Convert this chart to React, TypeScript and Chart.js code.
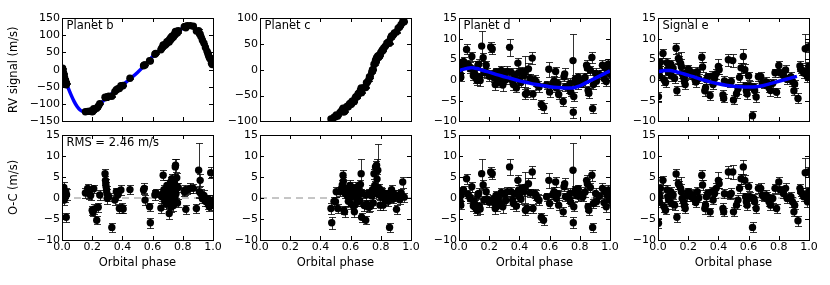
import React, { useEffect, useRef } from 'react';
import { Chart, registerables } from 'chart.js';

Chart.register(...registerables);
Chart.defaults.font.family = "'DejaVu Sans', sans-serif";
Chart.defaults.font.size = 11;
Chart.defaults.color = '#000';

// ---------------- DATA ----------------
// Planet b
const bPhase = [0.004,0.008,0.012,0.015,0.018,0.022,0.025,0.028,0.03,
  0.155,0.17,0.18,0.19,0.2,0.205,0.21,0.215,0.23,0.24,0.25,
  0.285,0.288,0.29,0.292,0.295,0.298,0.3,0.31,
  0.33,0.35,0.36,0.37,0.38,0.39,0.4,0.405,
  0.45,
  0.54,0.545,0.55,
  0.58,0.585,
  0.615,0.62,
  0.655,0.66,0.665,0.67,0.675,0.68,0.685,0.69,0.695,0.7,0.705,0.71,0.712,0.715,0.72,0.722,0.725,0.728,0.73,0.735,0.738,0.74,0.745,0.748,0.75,0.752,0.755,0.76,0.765,0.77,
  0.81,0.815,0.82,0.83,0.85,0.87,
  0.89,0.905,0.91,0.915,0.92,0.93,0.94,0.95,0.96,0.965,0.97,0.975,0.98,0.985,0.99,0.995];
const bRV = [4,-5.5,-11.5,-20.5,-25,-32,-34,-43.6,-40,
  -122,-121,-121,-120,-122,-120.4,-113,-115.6,-112,-106,-99,
  -80,-81,-80.6,-80.3,-80,-80,-80,-76.7,
  -77,-63.5,-58,-55,-54.5,-46.7,-47.3,-45.6,
  -25,
  11.5,14,13.5,
  26,25,
  45,47,
  58,62,65.6,72,71,70,74,74,81,79.7,83.6,80.7,88,85.6,92.6,87.5,91.8,97,92.7,97.6,95,99,103,101,109,111,105,111,107,113,
  124.5,125.6,121.6,127.6,128,126,
  112,113,104,103,96,85.3,76.6,64.7,54,48.7,42,36,31.5,32.5,19,15];
const bOC = [1.8,0.5,2.5,-0.5,1.0,0.2,1.5,-4.6,0.8,
  1.2,2.3,1.0,0.6,-2.9,-3.4,2.2,-2.6,-5.3,-2.2,0.7,
  5.8,4.2,3.4,2.7,1.9,1.1,-0.1,0.3,
  -7.0,-0.5,1.5,0.7,-2.5,1.9,-2.3,-2.6,
  2.0,
  1.9,2.3,-0.5,
  -2.1,-5.9,
  0.7,1.2,
  -2.4,0.3,1.0,5.4,2.0,-0.8,0.5,-1.5,3.0,-0.3,1.4,-3.7,2.6,-1.0,3.8,-2.2,0.8,4.6,-0.5,2.2,-1.8,1.5,3.5,0.2,7.4,7.8,1.0,4.8,-1.2,2.5,
  1.5,1.9,-2.7,1.9,2.3,2.3,
  -2.5,6.6,1.5,4.2,1.0,-0.2,0.6,-0.8,-1.0,-0.3,-1.4,-2.0,-0.5,6.0,-1.8,-0.6];
const bErr = [1.2,1.0,1.3,1.1,1.0,1.2,1.0,1.1,1.3,
  1.1,1.0,1.2,1.0,1.1,1.0,1.0,1.2,1.0,1.1,1.2,
  1.2,1.0,1.1,1.2,1.0,1.1,1.3,1.0,
  1.0,1.1,1.0,1.2,1.0,1.1,1.2,1.0,
  1.1,
  1.0,1.2,1.1,
  1.0,1.2,
  1.1,1.0,
  1.2,1.0,1.1,1.2,1.0,1.1,1.3,1.0,1.2,1.1,1.0,1.3,1.1,1.0,1.2,1.1,1.0,1.2,1.1,1.0,1.2,1.0,1.1,1.2,1.8,1.6,1.1,1.2,1.0,1.1,
  1.0,1.2,1.1,1.0,1.2,1.0,
  1.1,6.5,1.2,1.4,1.1,1.0,1.2,1.1,1.0,1.1,1.2,1.0,1.1,1.3,1.0,1.2];
const bModelPhase = [0,0.02,0.04,0.06,0.08,0.1,0.12,0.14,0.16,0.18,0.2,0.25,0.3,0.35,0.4,0.45,0.5,0.55,0.6,0.65,0.7,0.75,0.78,0.81,0.84,0.87,0.9,0.92,0.94,0.96,0.98,1.0];
const bModel = [10,-30,-52,-73,-92,-107,-117,-122,-124,-122,-119,-100,-80,-63,-45,-27,-8,14,38,58,80,102,115,123,127,124,110,95,76,55,32,10];

// Planet c
const cPhase = [0.47,0.475,0.49,0.5,0.505,0.515,0.53,0.54,0.545,0.55,
  0.552,0.555,0.56,0.565,0.575,0.58,0.585,0.59,0.595,0.6,
  0.605,0.61,0.615,0.62,0.625,0.63,0.635,0.64,0.645,0.65,
  0.655,0.66,0.665,0.67,0.673,0.68,0.69,0.7,0.705,0.71,
  0.72,0.725,0.73,0.74,0.745,0.75,0.755,0.76,0.765,0.77,
  0.772,0.775,0.78,0.785,0.79,0.795,0.8,0.805,0.81,0.815,
  0.82,0.83,0.84,0.85,0.858,0.865,0.871,0.88,0.89,0.904,
  0.915,0.925,0.935,0.945,0.955];
const cRV = [-95.5,-98.4,-91.8,-90.9,-87.5,-89.5,-82.5,-79.7,-77.9,-74.6,
  -75.5,-81.9,-80.7,-75,-71.3,-71.5,-71.8,-67.8,-65.3,-66.8,
  -66.7,-60.8,-60.7,-61.8,-61.3,-55,-52.1,-52.6,-51.8,-46.2,
  -45.6,-45.6,-39.8,-35.2,-44.4,-36,-34.8,-34.3,-25.3,-24.8,
  -19.9,-13.6,-14,-4.8,0,0.1,10.5,11,18.4,15.5,
  23,21.5,26.6,23.8,28.3,27.3,33.6,34.5,38.2,37.3,
  42.1,45.5,51.3,53.8,51,61.4,65.2,66.3,71.2,72.8,
  80.1,82.8,87.7,93.3,92.7];
const cOC = [-2.5,-5.9,-0.8,-0.9,1.5,-2.5,1.5,2.3,3.1,5.4,
  4.0,-2.9,-3.3,1.0,2.2,0.5,-0.8,1.8,3.0,0.2,
  -1.5,2.6,0.9,-2.0,-3.3,1.2,2.3,0.0,-1.0,2.8,
  1.4,-0.6,3.2,5.8,-4.6,1.0,-1.8,-5.3,0.7,-1.5,
  -2.2,1.2,-2.0,0.5,2.0,-1.2,5.8,3.0,7.4,1.5,
  7.8,4.5,6.6,0.8,2.3,-1.7,1.6,0.2,1.5,-1.7,
  0.8,-0.5,1.0,-0.8,-7.0,0.4,2.0,-0.3,0.9,-2.7,
  0.6,-0.4,1.2,3.8,0.2];
const cErr = [1.2,1.4,1.0,1.1,1.2,1.0,1.1,1.0,1.2,1.3,
  1.1,1.0,1.2,1.1,1.0,1.2,1.1,1.0,1.3,1.1,
  1.0,1.2,1.1,1.0,1.2,1.0,1.1,1.2,1.0,1.1,
  1.0,1.2,1.1,3.6,1.1,1.0,1.2,1.0,1.1,1.0,
  1.2,1.0,1.1,1.0,1.2,1.1,1.2,1.0,1.5,1.1,
  1.4,1.2,6.2,1.0,1.1,1.2,1.0,1.1,1.0,1.2,
  1.0,1.1,1.0,1.2,1.0,1.1,1.2,1.0,1.1,1.0,
  1.2,1.1,1.0,1.3,1.1];
const cModelPhase = [0.46,0.5,0.55,0.6,0.65,0.7,0.73,0.76,0.8,0.83,0.865,0.9,0.93,0.96];
const cModel = [-94,-90,-80,-67,-49,-29,-12,8,32,46,61,74,85,94];

// Planet d
const dPhase = [0.005,0.008,0.012,0.015,0.018,0.03,0.05,0.06,0.07,0.075,
  0.085,0.095,0.1,0.105,0.11,0.12,0.125,0.13,0.135,0.14,
  0.15,0.16,0.165,0.18,0.185,0.2,0.21,0.22,0.225,0.23,
  0.24,0.245,0.25,0.26,0.27,0.28,0.29,0.3,0.31,0.32,
  0.335,0.345,0.355,0.36,0.37,0.38,0.39,0.395,0.4,0.41,
  0.42,0.43,0.435,0.44,0.45,0.46,0.47,0.485,0.49,0.5,
  0.51,0.52,0.53,0.545,0.56,0.58,0.595,0.6,0.62,0.63,
  0.64,0.645,0.655,0.66,0.69,0.695,0.7,0.705,0.73,0.735,
  0.74,0.755,0.757,0.76,0.77,0.775,0.785,0.79,0.8,0.81,
  0.82,0.835,0.845,0.85,0.855,0.86,0.87,0.88,0.885,0.89,
  0.905,0.91,0.93,0.95,0.96,0.965,0.975,0.98,0.99,0.995];
const dRV = [2.6,1.4,0.7,3.1,3.9,4.5,7.4,3.75,3.2,2.7,
  5.7,1.05,2.2,1.4,0.6,-0.1,3.5,3.8,0.7,-0.1,
  8.2,5.4,1.8,3.6,1.8,0.9,8.0,7.5,1.4,0.6,
  -1.1,2.0,-0.7,1.2,0.0,2.3,-1.2,1.7,0.1,2.1,
  7.9,1.9,-0.3,-1.1,1.1,-1.9,4.1,1.8,0.1,-0.6,
  2.0,1.1,2.0,-3.4,-3.1,2.7,0.4,5.3,-3.4,0.1,
  -0.35,-1.2,-1.7,-5.9,-6.65,-1.2,2.6,-2.9,-1.0,-0.2,
  2.05,-1.9,-0.8,-3.5,-5.2,0.8,1.5,-1.6,-2.0,-0.8,
  -2.9,4.7,-7.8,-4.0,0.2,-0.6,-1.05,0.7,-0.4,-0.6,
  -0.75,0.6,3.6,2.9,-2.5,-3.2,2.35,5.45,-6.9,-1.1,
  1.6,-0.3,1.35,3.6,0.4,3.1,-0.35,2.5,3.9,1.6];
const dOC = [0.3,-0.9,-1.7,0.7,1.5,1.9,4.6,0.9,0.3,-0.2,
  2.7,-1.9,-0.7,-1.5,-2.3,-2.9,0.7,1.1,-2.0,-2.6,
  5.8,3.1,-0.5,1.5,-0.3,-1.0,6.2,5.8,-0.3,-1.1,
  -2.5,0.6,-2.0,0.0,-1.1,1.3,-2.1,0.9,-0.6,1.5,
  7.4,1.5,-0.5,-1.3,1.0,-1.9,4.2,1.9,0.3,-0.3,
  2.3,1.5,2.5,-2.9,-2.5,3.4,1.2,6.2,-2.5,1.1,
  0.7,-0.1,-0.5,-4.6,-5.3,0.3,4.2,-1.3,0.7,1.5,
  3.8,-0.1,1.0,-1.7,-3.3,2.7,3.4,0.3,-0.1,1.1,
  -1.0,6.6,-5.9,-2.1,1.9,1.1,0.5,2.2,1.0,0.6,
  0.3,1.4,4.2,3.4,-2.1,-2.9,2.5,5.4,-7.0,-1.3,
  1.1,-0.9,0.4,2.3,-1.1,1.5,-2.1,0.7,1.9,-0.5];
const dErr = [1.1,1.2,1.0,1.3,1.1,1.0,1.2,1.0,1.1,1.0,
  1.2,1.1,1.1,1.0,1.2,1.1,1.0,1.2,1.0,1.3,
  3.6,1.2,1.0,1.1,1.2,1.2,1.3,1.2,1.0,1.1,
  1.3,1.0,1.0,1.1,1.2,1.0,1.4,1.1,1.0,1.2,
  2.0,1.1,1.0,1.2,1.0,1.1,1.2,1.1,1.0,1.2,
  1.1,1.0,3.7,1.2,1.1,1.3,1.0,1.5,1.1,1.0,
  1.2,1.0,1.1,1.1,1.2,1.0,1.8,1.1,1.0,1.2,
  1.2,1.1,1.0,1.2,1.1,1.0,1.3,1.0,1.1,1.2,
  1.0,6.4,1.3,1.1,1.0,1.2,1.1,1.0,1.2,1.1,
  1.0,1.2,1.2,1.1,1.0,1.2,1.1,1.3,1.1,1.0,
  1.2,1.1,1.0,1.2,1.0,1.1,1.2,1.0,1.1,1.2];
const dModelPhase = [0,0.02,0.05,0.08,0.1,0.12,0.15,0.18,0.2,0.25,0.3,0.35,0.4,0.45,0.5,0.55,0.6,0.65,0.7,0.75,0.8,0.85,0.9,0.95,1.0];
const dModel = [2.2,2.5,2.8,3.0,2.9,2.8,2.4,2.1,1.9,1.3,0.8,0.3,-0.2,-0.6,-1.0,-1.3,-1.6,-1.8,-1.9,-1.9,-1.4,-0.5,0.4,1.3,2.2];

// Signal e
const ePhase = [0.003,0.006,0.01,0.013,0.016,0.033,0.04,0.05,0.06,0.065,
  0.07,0.085,0.09,0.1,0.11,0.12,0.125,0.135,0.14,0.15,
  0.155,0.16,0.17,0.175,0.18,0.19,0.2,0.21,0.22,0.23,
  0.245,0.25,0.26,0.27,0.29,0.295,0.31,0.315,0.32,0.33,
  0.345,0.355,0.365,0.375,0.385,0.4,0.405,0.43,0.435,0.44,
  0.466,0.475,0.485,0.495,0.5,0.52,0.53,0.54,0.55,0.565,
  0.575,0.58,0.585,0.59,0.6,0.61,0.626,0.635,0.64,0.65,
  0.665,0.68,0.69,0.7,0.715,0.725,0.735,0.745,0.76,0.775,
  0.785,0.8,0.81,0.83,0.845,0.855,0.88,0.89,0.9,0.905,
  0.927,0.94,0.945,0.955,0.965,0.975,0.98,0.99,0.995,0.998];
const eRV = [-4.0,3.1,1.0,2.3,4.3,6.4,0.1,-0.6,4.2,2.6,
  1.8,3.8,1.0,2.85,0.4,7.7,-2.6,5.25,4.9,4.0,
  3.2,1.5,0.6,-0.25,-1.1,1.8,2.7,2.2,1.3,1.55,
  0.15,-0.5,2.0,0.35,5.5,3.15,-2.6,-1.85,0.1,0.8,
  -3.75,0.95,-1.1,0.4,1.5,3.3,2.5,-3.6,-4.4,-0.2,
  4.9,-0.7,-0.35,4.7,-4.8,-3.3,-2.1,0.65,2.95,5.7,
  2.5,-1.4,-2.6,-3.4,1.0,-1.4,-8.65,-1.7,-2.5,-4.1,
  0.8,0.85,-0.7,-1.0,-0.45,-0.75,-1.85,-2.55,-0.8,1.75,
  -2.95,3.5,1.7,1.1,2.45,0.15,0.8,-0.3,-2.6,-0.95,
  -4.45,3.4,2.6,2.4,1.7,7.55,1.9,0.8,8.0,3.3];
const eOC = [-6.0,1.1,-1.0,0.3,2.3,4.2,-2.1,-2.9,1.9,0.3,
  -0.5,1.5,-1.3,0.7,-1.7,5.7,-4.6,3.4,3.1,2.3,
  1.5,-0.1,-0.9,-1.7,-2.5,0.5,1.5,1.1,0.3,0.7,
  -0.5,-1.1,1.5,0.0,5.4,3.1,-2.5,-1.7,0.3,1.1,
  -3.3,1.5,-0.5,1.1,2.3,4.2,3.4,-2.5,-3.3,1.0,
  6.2,0.7,1.1,6.2,-3.3,-1.7,-0.5,2.3,4.6,7.4,
  4.2,0.3,-0.9,-1.7,2.7,0.3,-7.0,-0.1,-0.9,-2.5,
  2.3,2.3,0.7,0.3,0.7,0.3,-0.9,-1.7,-0.1,2.3,
  -2.5,3.8,1.9,1.1,2.3,-0.1,0.3,-0.9,-3.3,-1.7,
  -5.4,2.3,1.5,1.1,0.3,6.0,0.3,-0.9,6.2,1.5];
const eErr = [1.2,1.0,1.1,1.2,1.0,1.1,1.2,1.0,1.1,1.2,
  1.0,1.1,1.2,1.0,1.1,1.3,1.1,1.2,1.0,1.1,
  3.5,1.0,1.2,1.1,1.0,1.2,1.0,1.0,1.1,1.2,
  1.0,1.1,1.1,1.0,1.2,1.1,1.2,1.0,1.1,1.0,
  1.0,1.2,1.0,1.1,1.2,1.9,1.1,1.2,1.0,1.1,
  1.5,1.0,1.2,1.6,1.1,1.0,1.2,1.1,1.2,1.7,
  1.3,1.0,1.1,1.2,1.0,1.1,1.2,1.0,1.2,1.1,
  1.0,1.2,1.1,1.0,1.2,1.1,1.0,1.2,1.1,1.0,
  1.1,1.2,1.0,1.1,1.2,1.0,1.1,1.2,1.1,1.0,
  1.2,1.1,1.0,1.2,1.1,3.5,1.0,1.2,1.3,1.1];
const eModelPhase = [0,0.05,0.08,0.12,0.16,0.2,0.25,0.3,0.35,0.4,0.45,0.5,0.55,0.6,0.65,0.7,0.75,0.8,0.85,0.9,0.92];
const eModel = [2.0,2.3,2.3,2.0,1.6,1.2,0.6,0.0,-0.5,-0.9,-1.25,-1.5,-1.65,-1.7,-1.6,-1.3,-0.8,-0.3,0.2,0.7,0.9];

const phaseTicks = { min: 0, max: 1, step: 0.2 };
const panelLabels = ['Planet b', 'Planet c', 'Planet d', 'Signal e'];
const rmsLabel = 'RMS = 2.46 m/s';
const xTitle = 'Orbital phase';
const yTitles = ['RV signal (m/s)', 'O-C (m/s)'];
const topRanges = [
  { min: -150, max: 150, step: 50 },
  { min: -100, max: 100, step: 50 },
  { min: -10, max: 15, step: 5 },
  { min: -10, max: 15, step: 5 },
];
const ocRange = { min: -10, max: 15, step: 5 };

// ---------------- LAYOUT ----------------
const COL_LEFT = [62, 260, 459, 658];
const PLOT_W = 151;
const ROWS = [
  { top: 18, bottom: 122, canvasTop: 6, canvasBottom: 130 },
  { top: 135, bottom: 240, canvasTop: 123, canvasBottom: 272 },
];
const RIGHT_PAD = 14;
const FAMILY = "'DejaVu Sans', sans-serif";
const TICK_SIZE = 11;
const TEXT_SIZE = 11.5;

type Spec = {
  col: number; row: number;
  phase: number[]; values: number[]; errs: number[];
  modelPhase?: number[]; model?: number[];
  range: { min: number; max: number; step: number };
  label?: string; yTitle?: string; lineOnTop?: boolean; zeroLine?: boolean;
};

const planets = [
  { phase: bPhase, rv: bRV, oc: bOC, err: bErr, mp: bModelPhase, m: bModel, lineOnTop: false },
  { phase: cPhase, rv: cRV, oc: cOC, err: cErr, mp: cModelPhase, m: cModel, lineOnTop: false },
  { phase: dPhase, rv: dRV, oc: dOC, err: dErr, mp: dModelPhase, m: dModel, lineOnTop: true },
  { phase: ePhase, rv: eRV, oc: eOC, err: eErr, mp: eModelPhase, m: eModel, lineOnTop: true },
];

const specs: Spec[] = [];
planets.forEach((p, i) => {
  specs.push({ col: i, row: 0, phase: p.phase, values: p.rv, errs: p.err, modelPhase: p.mp, model: p.m,
    range: topRanges[i], label: panelLabels[i], yTitle: i === 0 ? yTitles[0] : undefined, lineOnTop: p.lineOnTop });
  specs.push({ col: i, row: 1, phase: p.phase, values: p.oc, errs: p.err, range: ocRange,
    label: i === 0 ? rmsLabel : undefined, yTitle: i === 0 ? yTitles[1] : undefined, zeroLine: true });
});

function geom(col: number, row: number) {
  const yw = col === 0 ? 62 : 45;
  const r = ROWS[row];
  return {
    left: COL_LEFT[col] - yw, top: r.canvasTop,
    w: yw + PLOT_W + RIGHT_PAD, h: r.canvasBottom - r.canvasTop,
    yw, xh: r.canvasBottom - r.bottom, T: r.top - r.canvasTop,
  };
}

const fmtY = (v: any) => { const n = Number(v); return n < 0 ? '\u2212' + Math.abs(n) : String(n); };

const decoPlugin = {
  id: 'deco',
  beforeDatasetDraw(chart: any, args: any) {
    const ds = chart.data.datasets[args.index];
    if (!ds.errors) return;
    const { ctx, chartArea: a } = chart;
    const ys = chart.scales.y;
    ctx.save();
    ctx.beginPath();
    ctx.rect(a.left, a.top, a.right - a.left, a.bottom - a.top);
    ctx.clip();
    ctx.strokeStyle = 'rgba(0,0,0,0.8)';
    ctx.lineWidth = 1;
    args.meta.data.forEach((el: any, i: number) => {
      const v = ds.data[i].y;
      const e = ds.errors[i];
      const x = Math.round(el.x) + 0.5;
      const y1 = Math.round(ys.getPixelForValue(v - e)) + 0.5;
      const y2 = Math.round(ys.getPixelForValue(v + e)) + 0.5;
      ctx.beginPath();
      ctx.moveTo(x, y1); ctx.lineTo(x, y2);
      ctx.moveTo(x - 3.5, y1); ctx.lineTo(x + 3.5, y1);
      ctx.moveTo(x - 3.5, y2); ctx.lineTo(x + 3.5, y2);
      ctx.stroke();
    });
    ctx.restore();
  },
  afterDraw(chart: any, _args: any, opts: any) {
    const { ctx, chartArea: a } = chart;
    const xs = chart.scales.x, ys = chart.scales.y;
    const L = Math.round(a.left), R = Math.round(a.right), T = Math.round(a.top), B = Math.round(a.bottom);
    ctx.save();
    ctx.strokeStyle = '#000';
    ctx.lineWidth = 1;
    ctx.beginPath();
    xs.ticks.forEach((t: any) => {
      const px = Math.round(xs.getPixelForValue(t.value)) + 0.5;
      ctx.moveTo(px, B); ctx.lineTo(px, B - 4);
      ctx.moveTo(px, T); ctx.lineTo(px, T + 4);
    });
    ys.ticks.forEach((t: any) => {
      const py = Math.round(ys.getPixelForValue(t.value)) + 0.5;
      ctx.moveTo(L, py); ctx.lineTo(L + 4, py);
      ctx.moveTo(R, py); ctx.lineTo(R - 4, py);
    });
    ctx.stroke();
    ctx.strokeRect(L + 0.5, T + 0.5, R - L, B - T);
    if (opts && opts.label) {
      ctx.fillStyle = '#000';
      ctx.font = TEXT_SIZE + 'px ' + FAMILY;
      ctx.textBaseline = 'middle';
      ctx.textAlign = 'left';
      ctx.fillText(opts.label, a.left + 4.5, a.top + 8.5);
    }
    ctx.restore();
  },
};

function makeConfig(s: Spec) {
  const g = geom(s.col, s.row);
  const datasets: any[] = [];
  datasets.push({
    type: 'scatter',
    data: s.phase.map((x, i) => ({ x, y: s.values[i] })),
    errors: s.errs,
    pointRadius: 3.7, pointHoverRadius: 3.7,
    backgroundColor: '#000', borderWidth: 0,
    order: s.lineOnTop ? 2 : 1, clip: 0,
  });
  if (s.modelPhase && s.model) {
    datasets.push({
      type: 'line',
      data: s.modelPhase.map((x, i) => ({ x, y: s.model![i] })),
      borderColor: '#0000ff', borderWidth: 3.5, pointRadius: 0,
      cubicInterpolationMode: 'monotone', fill: false,
      order: s.lineOnTop ? 1 : 2, clip: 0,
    });
  }
  if (s.zeroLine) {
    datasets.push({
      type: 'line',
      data: [{ x: phaseTicks.min, y: 0 }, { x: phaseTicks.max, y: 0 }],
      borderColor: '#8c8c8c', borderWidth: 1, borderDash: [7, 5], pointRadius: 0,
      fill: false, order: 3, clip: 0,
    });
  }
  const tickFont = { family: FAMILY, size: TICK_SIZE };
  const textFont = { family: FAMILY, size: TEXT_SIZE };
  const showX = s.row === 1;
  return {
    type: 'scatter',
    data: { datasets },
    options: {
      animation: false, responsive: false, devicePixelRatio: 1, events: [],
      layout: { padding: { left: 0, right: RIGHT_PAD, top: g.T, bottom: 0 } },
      plugins: { legend: { display: false }, tooltip: { enabled: false }, deco: { label: s.label } },
      scales: {
        x: {
          type: 'linear', min: phaseTicks.min, max: phaseTicks.max,
          grid: { display: false, drawTicks: false }, border: { display: false },
          ticks: { display: showX, stepSize: phaseTicks.step, padding: 1, color: '#000', font: tickFont, maxRotation: 0, autoSkip: false,
            callback: (v: any) => Number(v).toFixed(1) },
          title: { display: showX, text: xTitle, color: '#000', font: textFont, padding: { top: 0, bottom: 2 } },
          afterFit: (sc: any) => { sc.height = g.xh; },
        },
        y: {
          type: 'linear', min: s.range.min, max: s.range.max,
          grid: { display: false, drawTicks: false }, border: { display: false },
          ticks: { stepSize: s.range.step, padding: 2, color: '#000', font: tickFont, callback: fmtY, autoSkip: false },
          title: { display: !!s.yTitle, text: s.yTitle || '', color: '#000', font: textFont, padding: { top: 7, bottom: 0 } },
          afterFit: (sc: any) => { sc.width = g.yw; },
        },
      },
    },
    plugins: [decoPlugin],
  };
}

function Panel({ s }: { s: Spec }) {
  const ref = useRef<HTMLCanvasElement>(null);
  const g = geom(s.col, s.row);
  useEffect(() => {
    const chart = new Chart(ref.current as HTMLCanvasElement, makeConfig(s) as any);
    return () => chart.destroy();
  }, []);
  return (
    <canvas ref={ref} width={g.w} height={g.h}
      style={{ position: 'absolute', left: g.left, top: g.top, width: g.w, height: g.h }} />
  );
}

export default function App() {
  useEffect(() => { document.body.style.margin = '0'; }, []);
  return (
    <div style={{ position: 'fixed', left: 0, top: 0, width: 830, height: 285, background: '#fff', overflow: 'hidden' }}>
      {specs.map((s) => <Panel key={s.col + '-' + s.row} s={s} />)}
    </div>
  );
}
